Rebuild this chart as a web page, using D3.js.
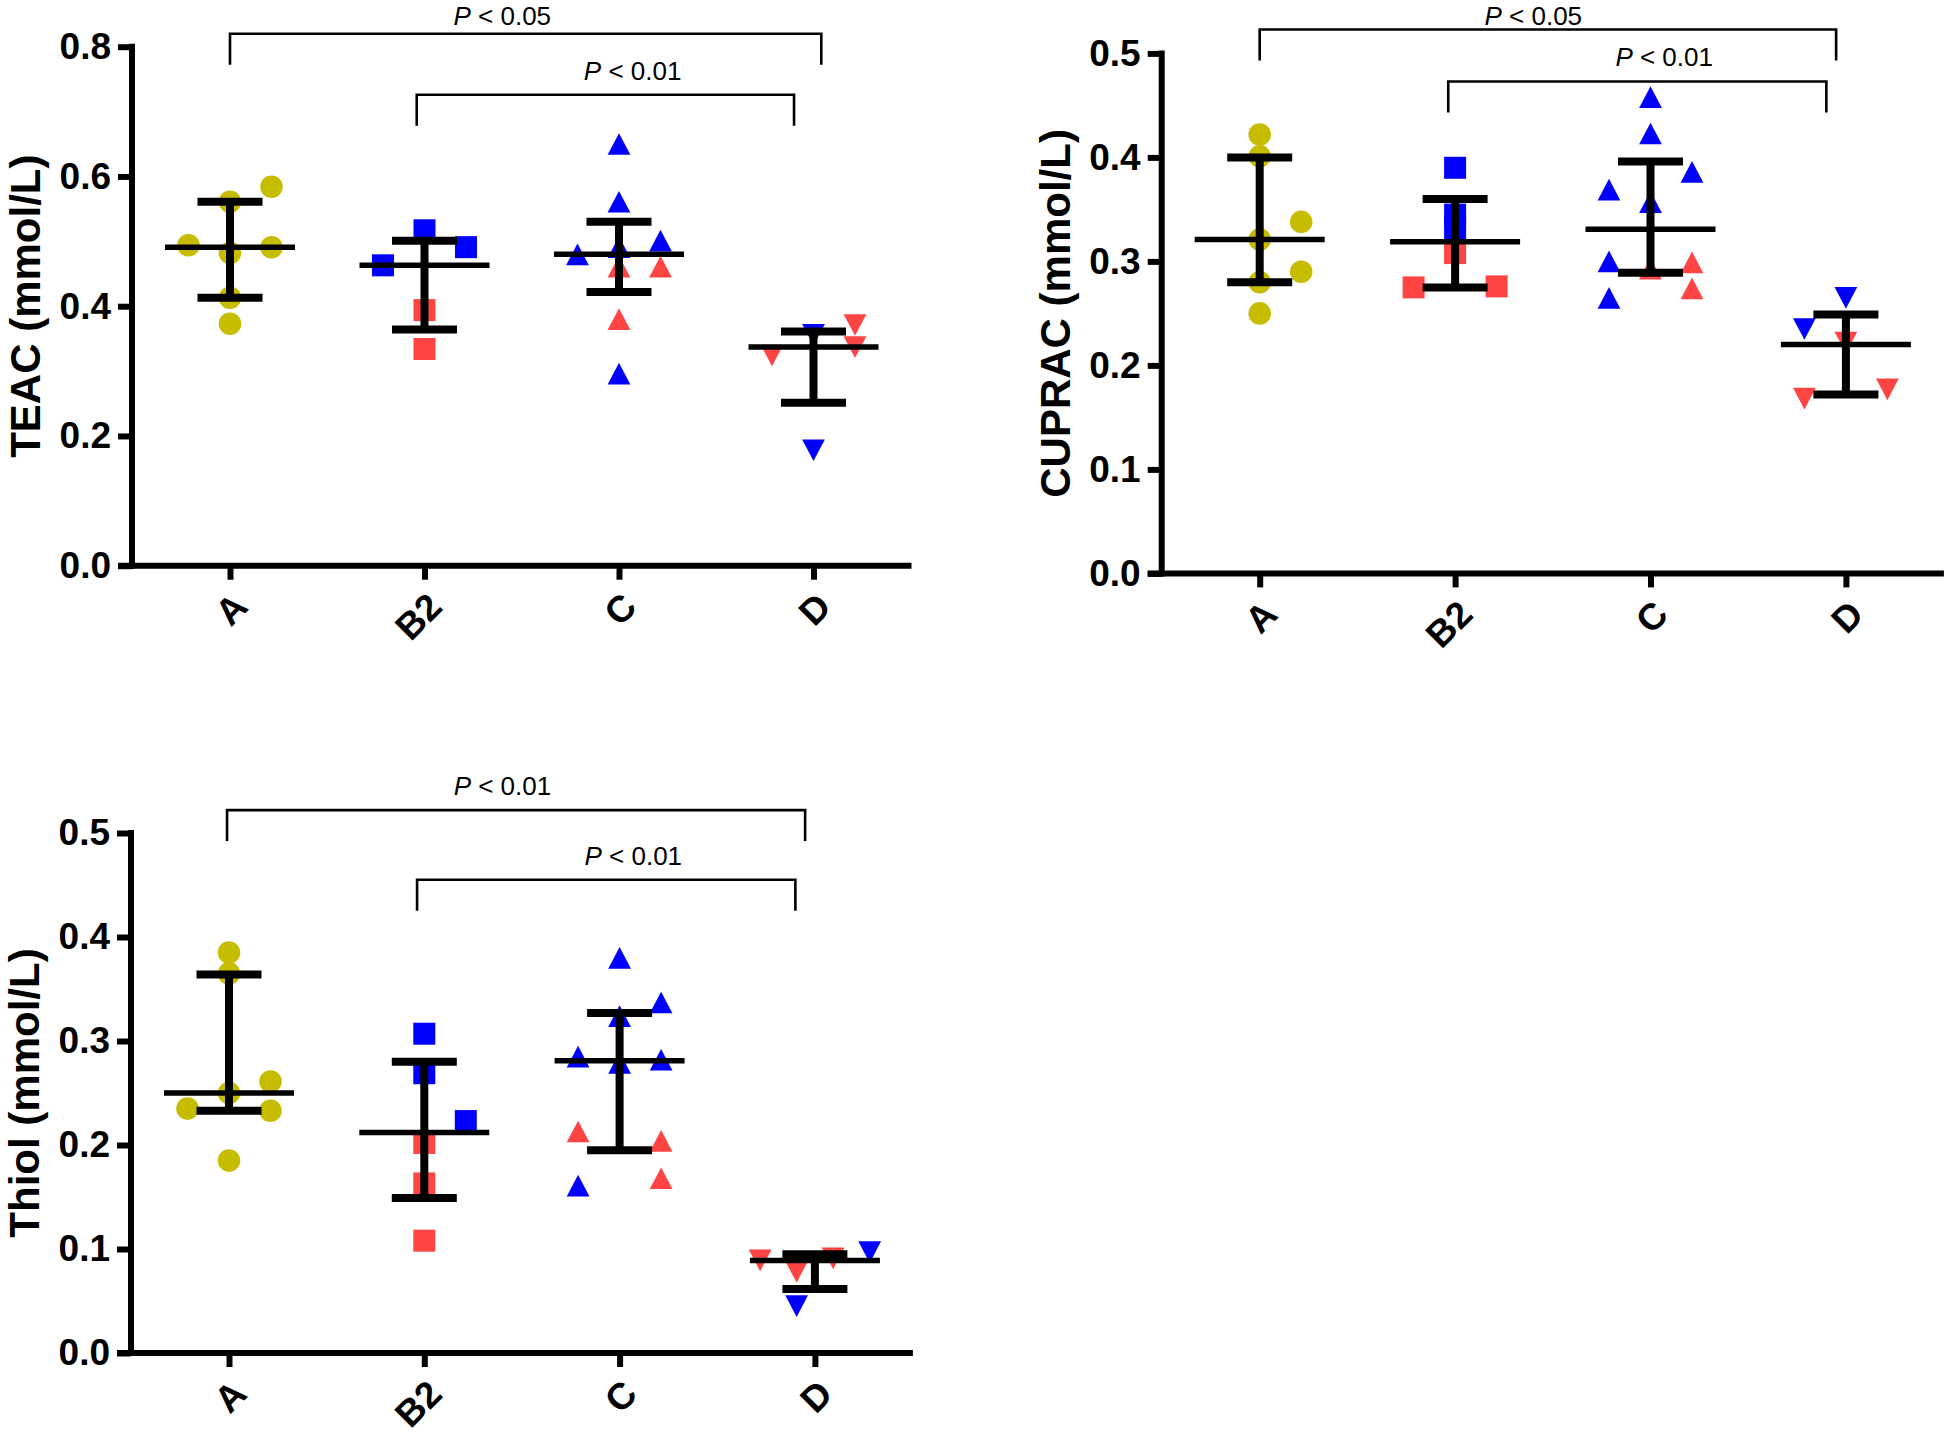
<!DOCTYPE html>
<head>
  <meta charset="utf-8">
  <script src="https://d3js.org/d3.v7.min.js"></script>
  <style>
    body { margin:0; background:#fff; }
    text { font-family: "Liberation Sans", Arial, sans-serif; }
  </style>
</head>
<body>
<script>
var cats = ["A", "B2", "C", "D"];

// TEAC panel
var teacA = [0.584, 0.561, 0.494, 0.482, 0.491, 0.413, 0.373];
var teacASlot = [1, 0, -1, 0, 1, 0, 0];
var teacB2 = [0.517, 0.491, 0.463, 0.394, 0.334];
var teacB2Sub = ["b", "b", "b", "r", "r"];
var teacB2Slot = [0, 1, -1, 0, 0];
var teacC = [0.650, 0.561, 0.480, 0.491, 0.501, 0.461, 0.461, 0.380, 0.296];
var teacCSub = ["b", "b", "b", "b", "b", "r", "r", "r", "b"];
var teacCSlot = [0, 0, -1, 0, 1, 0, 1, 0, 0];
var teacD = [0.178, 0.324, 0.371, 0.337, 0.356];
var teacDSub = ["b", "r", "r", "r", "b"];
var teacDSlot = [0, -1, 1, 1, 0];
var teacMean = [0.491, 0.463, 0.480, 0.337];
var teacLow = [0.413, 0.364, 0.422, 0.251];
var teacHigh = [0.561, 0.501, 0.530, 0.361];
var teacSig = [["0.05", 0, 3.04, 0.82], ["0.01", 0.96, 2.9, 0.726]];

// CUPRAC panel
var cupA = [0.422, 0.401, 0.338, 0.321, 0.290, 0.280, 0.250];
var cupASlot = [0, 0, 1, 0, 1, 0, 0];
var cupB2 = [0.390, 0.345, 0.332, 0.308, 0.275, 0.276];
var cupB2Sub = ["b", "b", "b", "r", "r", "r"];
var cupB2Slot = [0, 0, 0, 0, -1, 1];
var cupC = [0.458, 0.423, 0.386, 0.369, 0.357, 0.300, 0.265, 0.299, 0.274, 0.293];
var cupCSub = ["b", "b", "b", "b", "b", "b", "b", "r", "r", "r"];
var cupCSlot = [0, 0, 1, -1, 0, -1, -1, 1, 1, 0];
var cupD = [0.265, 0.235, 0.222, 0.168, 0.177];
var cupDSub = ["b", "b", "r", "r", "r"];
var cupDSlot = [0, -1, 0, -1, 1];
var cupMean = [0.321, 0.319, 0.331, 0.220];
var cupLow = [0.280, 0.275, 0.289, 0.172];
var cupHigh = [0.400, 0.360, 0.396, 0.249];
var cupSig = [["0.05", 0, 2.95, 0.523], ["0.01", 0.965, 2.9, 0.473]];

// Thiol panel
var thiA = [0.385, 0.365, 0.261, 0.250, 0.235, 0.233, 0.185];
var thiASlot = [0, 0, 1, 0, -1, 1, 0];
var thiB2 = [0.307, 0.269, 0.223, 0.202, 0.163, 0.108];
var thiB2Sub = ["b", "b", "b", "r", "r", "r"];
var thiB2Slot = [0, 0, 1, 0, 0, 0];
var thiC = [0.380, 0.337, 0.324, 0.285, 0.279, 0.282, 0.213, 0.204, 0.168, 0.161];
var thiCSub = ["b", "b", "b", "b", "b", "b", "r", "r", "r", "b"];
var thiCSlot = [0, 1, 0, -1, 0, 1, -1, 1, 1, -1];
var thiD = [0.089, 0.078, 0.091, 0.097, 0.045];
var thiDSub = ["r", "r", "r", "b", "b"];
var thiDSlot = [-1.32, -0.44, 0.44, 1.32, -0.44];
var thiMean = [0.250, 0.212, 0.281, 0.089];
var thiLow = [0.233, 0.149, 0.195, 0.0615];
var thiHigh = [0.364, 0.280, 0.327, 0.095];
var thiSig = [["0.01", -0.01, 2.95, 0.522], ["0.01", 0.963, 2.9, 0.455]];

var ySeq5 = [0, 0.1, 0.2, 0.3, 0.4, 0.5];
var ySeq8 = [0, 0.2, 0.4, 0.6, 0.8];

var colour = d3.scaleOrdinal().domain(["y", "b", "r"]).range(["#c6bd00", "#0000ff", "#ff4444"]);

var triUp = { draw: function(c, size) {
  var s = Math.sqrt(size) / 2;
  c.moveTo(0, -s); c.lineTo(s * 1.05, s); c.lineTo(-s * 1.05, s); c.closePath();
}};
var triDown = { draw: function(c, size) {
  var s = Math.sqrt(size) / 2;
  c.moveTo(0, s); c.lineTo(s * 1.05, -s); c.lineTo(-s * 1.05, -s); c.closePath();
}};
var shapes = [d3.symbolCircle, d3.symbolSquare, triUp, triDown];
var shapeSize = [400, 484, 470, 470];

var W = 1946, H = 1438;
var svg = d3.select("body").append("svg")
  .attr("width", W).attr("height", H);
svg.append("rect").attr("width", W).attr("height", H).attr("fill", "#fff");

function drawPanel(p) {
  var y = d3.scaleLinear().domain([0, p.max]).range([p.bottom, p.top]);
  var x = d3.scalePoint().domain(cats).range([p.left + 98, p.left + 98 + 3 * p.step]);
  var xi = function(i) { return x(cats[0]) + i * p.step; };
  var g = svg.append("g");

  // significance brackets
  p.sig.forEach(function(s) {
    g.append("path")
      .attr("d", "M" + xi(s[1]) + "," + (y(s[3]) + 31) + "V" + y(s[3]) + "H" + xi(s[2]) + "V" + (y(s[3]) + 31))
      .attr("fill", "none").attr("stroke", "#000").attr("stroke-width", 2.6);
  });
  [1.4, 2.07].forEach(function(tx, k) {
    var s = p.sig[k];
    var t = g.append("text").attr("x", xi(tx)).attr("y", Math.max(y(s[3]) - 15, 25))
      .attr("text-anchor", "middle").attr("font-size", 26);
    t.append("tspan").attr("font-style", "italic").text("P");
    t.append("tspan").text(" < " + s[0]);
  });

  // points
  p.groups.forEach(function(vals, i) {
    g.selectAll(null).data(vals).enter().append("path")
      .attr("d", d3.symbol().type(shapes[i]).size(shapeSize[i]))
      .attr("transform", function(d, j) {
        return "translate(" + (x(cats[i]) + p.slots[i][j] * 41.5) + "," + y(d) + ")";
      })
      .attr("fill", function(d, j) { return colour(p.subs[i] ? p.subs[i][j] : "y"); });
  });

  // mean with error bars
  cats.forEach(function(c, i) {
    var cx = x(c);
    g.append("line").attr("x1", cx).attr("x2", cx)
      .attr("y1", y(p.high[i])).attr("y2", y(p.low[i]))
      .attr("stroke", "#000").attr("stroke-width", 8);
    [p.high[i], p.low[i]].forEach(function(v) {
      g.append("line").attr("x1", cx - 32.5).attr("x2", cx + 32.5)
        .attr("y1", y(v)).attr("y2", y(v))
        .attr("stroke", "#000").attr("stroke-width", 8);
    });
    g.append("line").attr("x1", cx - 65).attr("x2", cx + 65)
      .attr("y1", y(p.mean[i])).attr("y2", y(p.mean[i]))
      .attr("stroke", "#000").attr("stroke-width", 5.5);
  });

  // y axis
  var ya = g.append("g").attr("transform", "translate(" + p.left + ",0)")
    .call(d3.axisLeft(y).tickValues(p.ticks).tickFormat(d3.format(".1f"))
      .tickSize(14).tickSizeOuter(0).tickPadding(7));
  ya.select(".domain").remove();
  ya.selectAll(".tick line").attr("stroke-width", 6);
  ya.selectAll(".tick text").attr("font-size", 37).attr("font-weight", "bold")
    .attr("fill", "#000").attr("font-family", "Liberation Sans, Arial, sans-serif");
  g.append("line").attr("x1", p.left).attr("x2", p.left)
    .attr("y1", y(p.max)).attr("y2", y(0))
    .attr("stroke", "#000").attr("stroke-width", 6).attr("stroke-linecap", "square");

  // x axis
  var xa = g.append("g").attr("transform", "translate(0," + y(0) + ")")
    .call(d3.axisBottom(x).tickSize(14).tickSizeOuter(0));
  xa.select(".domain").remove();
  xa.selectAll(".tick line").attr("stroke-width", 6);
  xa.selectAll(".tick text")
    .attr("transform", "translate(10,34) rotate(-45)")
    .attr("y", 0).attr("dy", "0.35em")
    .attr("text-anchor", "end")
    .attr("font-size", 37).attr("font-weight", "bold").attr("fill", "#000")
    .attr("font-family", "Liberation Sans, Arial, sans-serif");
  g.append("line").attr("x1", p.left - 14).attr("x2", x(cats[3]) + 98)
    .attr("y1", y(0)).attr("y2", y(0))
    .attr("stroke", "#000").attr("stroke-width", 6);

  // axis title
  g.append("text")
    .attr("transform", "translate(" + (p.left - 92) + "," + ((p.top + p.bottom) / 2) + ") rotate(-90)")
    .attr("text-anchor", "middle").attr("font-size", 42).attr("font-weight", "bold")
    .text(p.title);
}

drawPanel({
  left: 132, bottom: 565.7, top: 46.7, max: 0.8, step: 194.5, ticks: ySeq8,
  title: "TEAC (mmol/L)",
  groups: [teacA, teacB2, teacC, teacD],
  subs: [null, teacB2Sub, teacCSub, teacDSub],
  slots: [teacASlot, teacB2Slot, teacCSlot, teacDSlot],
  mean: teacMean, low: teacLow, high: teacHigh, sig: teacSig
});

drawPanel({
  left: 1161.7, bottom: 573.4, top: 53.4, max: 0.5, step: 195.4, ticks: ySeq5,
  title: "CUPRAC (mmol/L)",
  groups: [cupA, cupB2, cupC, cupD],
  subs: [null, cupB2Sub, cupCSub, cupDSub],
  slots: [cupASlot, cupB2Slot, cupCSlot, cupDSlot],
  mean: cupMean, low: cupLow, high: cupHigh, sig: cupSig
});

drawPanel({
  left: 131, bottom: 1353, top: 833, max: 0.5, step: 195.3, ticks: ySeq5,
  title: "Thiol (mmol/L)",
  groups: [thiA, thiB2, thiC, thiD],
  subs: [null, thiB2Sub, thiCSub, thiDSub],
  slots: [thiASlot, thiB2Slot, thiCSlot, thiDSlot],
  mean: thiMean, low: thiLow, high: thiHigh, sig: thiSig
});
</script>
</body>
